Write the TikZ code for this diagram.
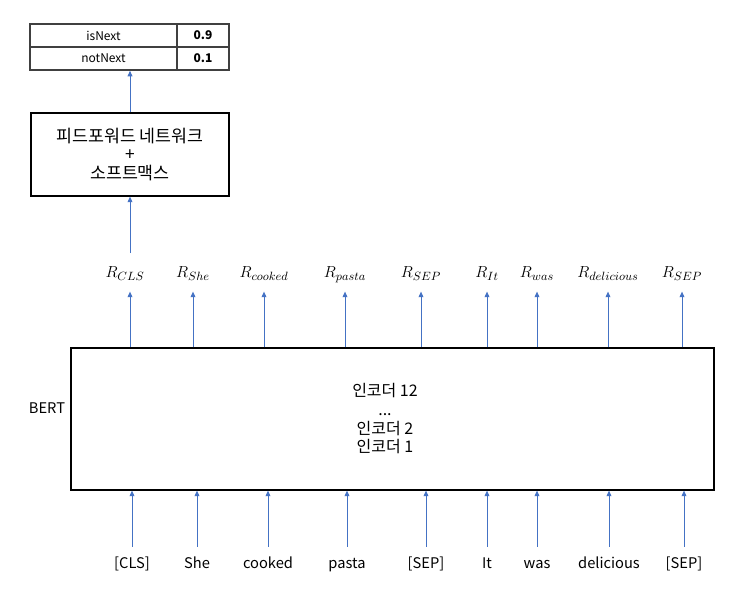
\documentclass[tikz,border=0pt]{standalone}
\usepackage{fontspec}
\setmainfont{Noto Sans CJK KR}
\usetikzlibrary{arrows.meta,fit}
\definecolor{arrblue}{HTML}{4472C4}
\definecolor{tblgray}{HTML}{404040}
\tikzset{
  arr/.style={draw=arrblue, line width=0.75pt, -{Triangle[width=3.6pt,length=4.2pt]}},
  cell/.style={draw=tblgray, line width=0.8pt, inner sep=0pt, font=\fontsize{9}{11}\selectfont},
  bigbox/.style={draw=black, line width=0.9pt, inner sep=0pt},
  rlab/.style={inner sep=0pt, anchor=base, text height=18.5pt, text depth=10pt, font=\fontsize{13}{15}\selectfont},
  tok/.style={inner sep=0pt, anchor=base, text height=16.3pt, text depth=3pt, font=\fontsize{11}{13}\selectfont},
  lbl/.style={inner sep=0pt, font=\fontsize{11}{13}\selectfont}
}
\begin{document}
\begin{tikzpicture}[x=0.75pt,y=-0.75pt]
\useasboundingbox (0,0) rectangle (747,605);
% table
\node[cell, minimum width=110.25pt, minimum height=17.25pt] (c11) at (103.5,35.5) {isNext};
\node[cell, minimum width=39pt, minimum height=17.25pt, font=\fontsize{9}{11}\selectfont\bfseries] (c12) at (203,35.5) {0.9};
\node[cell, minimum width=110.25pt, minimum height=17.25pt] (c21) at (103.5,58.5) {notNext};
\node[cell, minimum width=39pt, minimum height=17.25pt, font=\fontsize{9}{11}\selectfont\bfseries] (c22) at (203,58.5) {0.1};
\node[fit=(c11)(c22), inner sep=0pt] (tbl) {};
% ffn box
\node[bigbox, minimum width=148.5pt, minimum height=62.25pt, align=center, font=\fontsize{13}{13.8}\selectfont] (ffn) at (130,154.5) {피드포워드 네트워크\\+\\소프트맥스};
% BERT box
\node[bigbox, minimum width=482.25pt, minimum height=106.5pt] (bert) at (392.5,419) {};
\node[lbl, align=center, font=\fontsize{12}{14}\selectfont] (enc) at (385,419) {인코더 12\\...\\인코더 2\\인코더 1};
\node[lbl] (bertlbl) at (47,408) {BERT};
% R labels
\node[rlab] (r1) at (125,278) {$R_{CLS}$};
\node[rlab] (r2) at (193,278) {$R_{She}$};
\node[rlab] (r3) at (264,278) {$R_{cooked}$};
\node[rlab] (r4) at (345,278) {$R_{pasta}$};
\node[rlab] (r5) at (421,278) {$R_{SEP}$};
\node[rlab] (r6) at (487,278) {$R_{It}$};
\node[rlab] (r7) at (537,278) {$R_{was}$};
\node[rlab] (r8) at (608,278) {$R_{delicious}$};
\node[rlab] (r9) at (682,278) {$R_{SEP}$};
% tokens
\node[tok] (t1) at (132,569) {[CLS]};
\node[tok] (t2) at (197,569) {She};
\node[tok] (t3) at (268,569) {cooked};
\node[tok] (t4) at (347,569) {pasta};
\node[tok] (t5) at (426,569) {[SEP]};
\node[tok] (t6) at (487,569) {It};
\node[tok] (t7) at (537,569) {was};
\node[tok] (t8) at (609,569) {delicious};
\node[tok] (t9) at (684,569) {[SEP]};
% arrows
\draw[arr] (ffn.north) -- (ffn.north |- tbl.south);
\draw[arr] (r1.north -| ffn.south) -- (ffn.south);
\draw[arr] (bert.north -| ffn.south) -- (r1.south -| ffn.south);
\foreach \i in {2,...,9} { \draw[arr] (bert.north -| r\i.south) -- (r\i.south); }
\foreach \i in {1,...,9} { \draw[arr] (t\i.north) -- (bert.south -| t\i.north); }
\end{tikzpicture}
\end{document}
